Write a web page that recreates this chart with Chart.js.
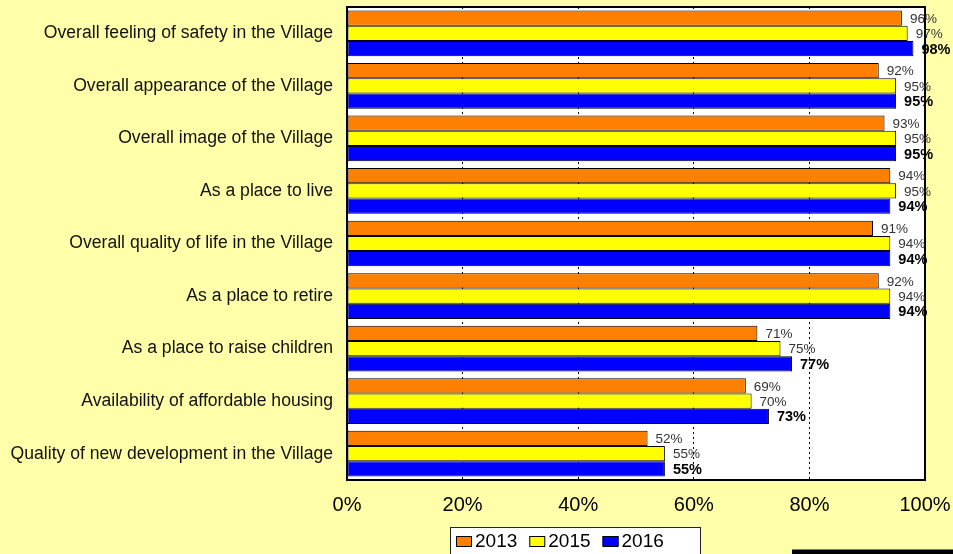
<!DOCTYPE html>
<html>
<head>
<meta charset="utf-8">
<script src="https://cdn.jsdelivr.net/npm/chart.js@4.4.1/dist/chart.umd.min.js"></script>
<style>
  html, body { margin: 0; padding: 0; background: #ffffaa; }
  #wrap { width: 953px; height: 554px; position: relative; }
</style>
</head>
<body>
<div id="wrap"><canvas id="chart" width="953" height="554"></canvas></div>
<script>
const CATEGORIES = [
  "Overall feeling of safety in the Village",
  "Overall appearance of the Village",
  "Overall image of the Village",
  "As a place to live",
  "Overall quality of life in the Village",
  "As a place to retire",
  "As a place to raise children",
  "Availability of affordable housing",
  "Quality of new development in the Village",
];

const YEARS = ["2013", "2015", "2016"];
const VALUES_2013 = [96, 92, 93, 94, 91, 92, 71, 69, 52];
const VALUES_2015 = [97, 95, 95, 95, 94, 94, 75, 70, 55];
const VALUES_2016 = [98, 95, 95, 94, 94, 94, 77, 73, 55];

const X_TICKS = [0, 20, 40, 60, 80, 100];

const COLORS = ["#ff8000", "#ffff00", "#0000ff"];

Chart.defaults.font.family = "'Liberation Sans', Arial, sans-serif";

const framePlugin = {
  id: "frame",
  beforeDraw(chart) {
    const { ctx, chartArea: a } = chart;
    ctx.save();
    ctx.fillStyle = "#ffffff";
    ctx.fillRect(a.left, a.top, a.right - a.left, a.bottom - a.top);
    ctx.restore();
  },
  afterDatasetsDraw(chart) {
    const { ctx, chartArea: a } = chart;
    ctx.save();

    // plot border
    ctx.strokeStyle = "#000";
    ctx.lineWidth = 2;
    ctx.strokeRect(a.left, a.top, a.right - a.left, a.bottom - a.top);

    // value labels
    ctx.textBaseline = "middle";
    ctx.textAlign = "left";
    chart.data.datasets.forEach((ds, i) => {
      const meta = chart.getDatasetMeta(i);
      const bold = i === 2;
      ctx.font = bold
        ? "bold 14.5px 'Liberation Sans', Arial, sans-serif"
        : "13.5px 'Liberation Sans', Arial, sans-serif";
      ctx.fillStyle = bold ? "#000" : "#333";
      meta.data.forEach((bar, j) => {
        ctx.fillText(ds.data[j] + "%", bar.x + 8, bar.y + 1);
      });
    });

    // legend box
    ctx.fillStyle = "#ffffff";
    ctx.fillRect(450, 527, 250, 40);
    ctx.strokeStyle = "#222";
    ctx.lineWidth = 1;
    ctx.strokeRect(450.5, 527.5, 250, 40);

    ctx.font = "19px 'Liberation Sans', Arial, sans-serif";
    let x = 456;
    chart.data.datasets.forEach((ds) => {
      ctx.fillStyle = ds.backgroundColor;
      ctx.fillRect(x, 536, 16, 10);
      ctx.strokeStyle = "#000";
      ctx.strokeRect(x + 0.5, 536.5, 15, 10);
      ctx.fillStyle = "#000";
      ctx.fillText(ds.label, x + 19, 542);
      x += 19 + ctx.measureText(ds.label).width + 12;
    });

    // black strip bottom right
    ctx.fillStyle = "#808060";
    ctx.fillRect(792, 549, 161, 1);
    ctx.fillStyle = "#000";
    ctx.fillRect(792, 550, 161, 4);
    ctx.restore();
  },
};

new Chart(document.getElementById("chart"), {
  type: "bar",
  data: {
    labels: CATEGORIES,
    datasets: [
      { label: YEARS[0], data: VALUES_2013, backgroundColor: COLORS[0] },
      { label: YEARS[1], data: VALUES_2015, backgroundColor: COLORS[1] },
      { label: YEARS[2], data: VALUES_2016, backgroundColor: COLORS[2] },
    ],
  },
  options: {
    indexAxis: "y",
    responsive: false,
    animation: false,
    layout: { padding: { top: 7, left: 0, right: 28, bottom: 0 } },
    datasets: {
      bar: {
        categoryPercentage: 0.87,
        barPercentage: 1,
        borderColor: "#000",
        borderWidth: 1,
        borderSkipped: false,
      },
    },
    plugins: {
      legend: { display: false },
      tooltip: { enabled: false },
    },
    scales: {
      y: {
        afterFit: (s) => {
          s.width = 347;
          s.paddingTop = 0;
          s.paddingBottom = 0;
        },
        grid: { display: false, drawTicks: false },
        border: { display: false },
        ticks: {
          color: "#111",
          padding: 14,
          font: { size: 17.6 },
        },
      },
      x: {
        min: 0,
        max: 100,
        afterFit: (s) => {
          s.height = 74;
          s.paddingLeft = 0;
          s.paddingRight = 0;
        },
        afterBuildTicks: (s) => { s.ticks = X_TICKS.map((v) => ({ value: v })); },
        grid: {
          drawTicks: false,
          color: (c) => (c.tick && (c.tick.value === 0 || c.tick.value === 100) ? "rgba(0,0,0,0)" : "#000"),
          lineWidth: 1,
        },
        border: { display: false, dash: [2, 3] },
        ticks: {
          color: "#000",
          padding: 13,
          font: { size: 20 },
          callback: (v) => v + "%",
        },
      },
    },
  },
  plugins: [framePlugin],
});
</script>
</body>
</html>
